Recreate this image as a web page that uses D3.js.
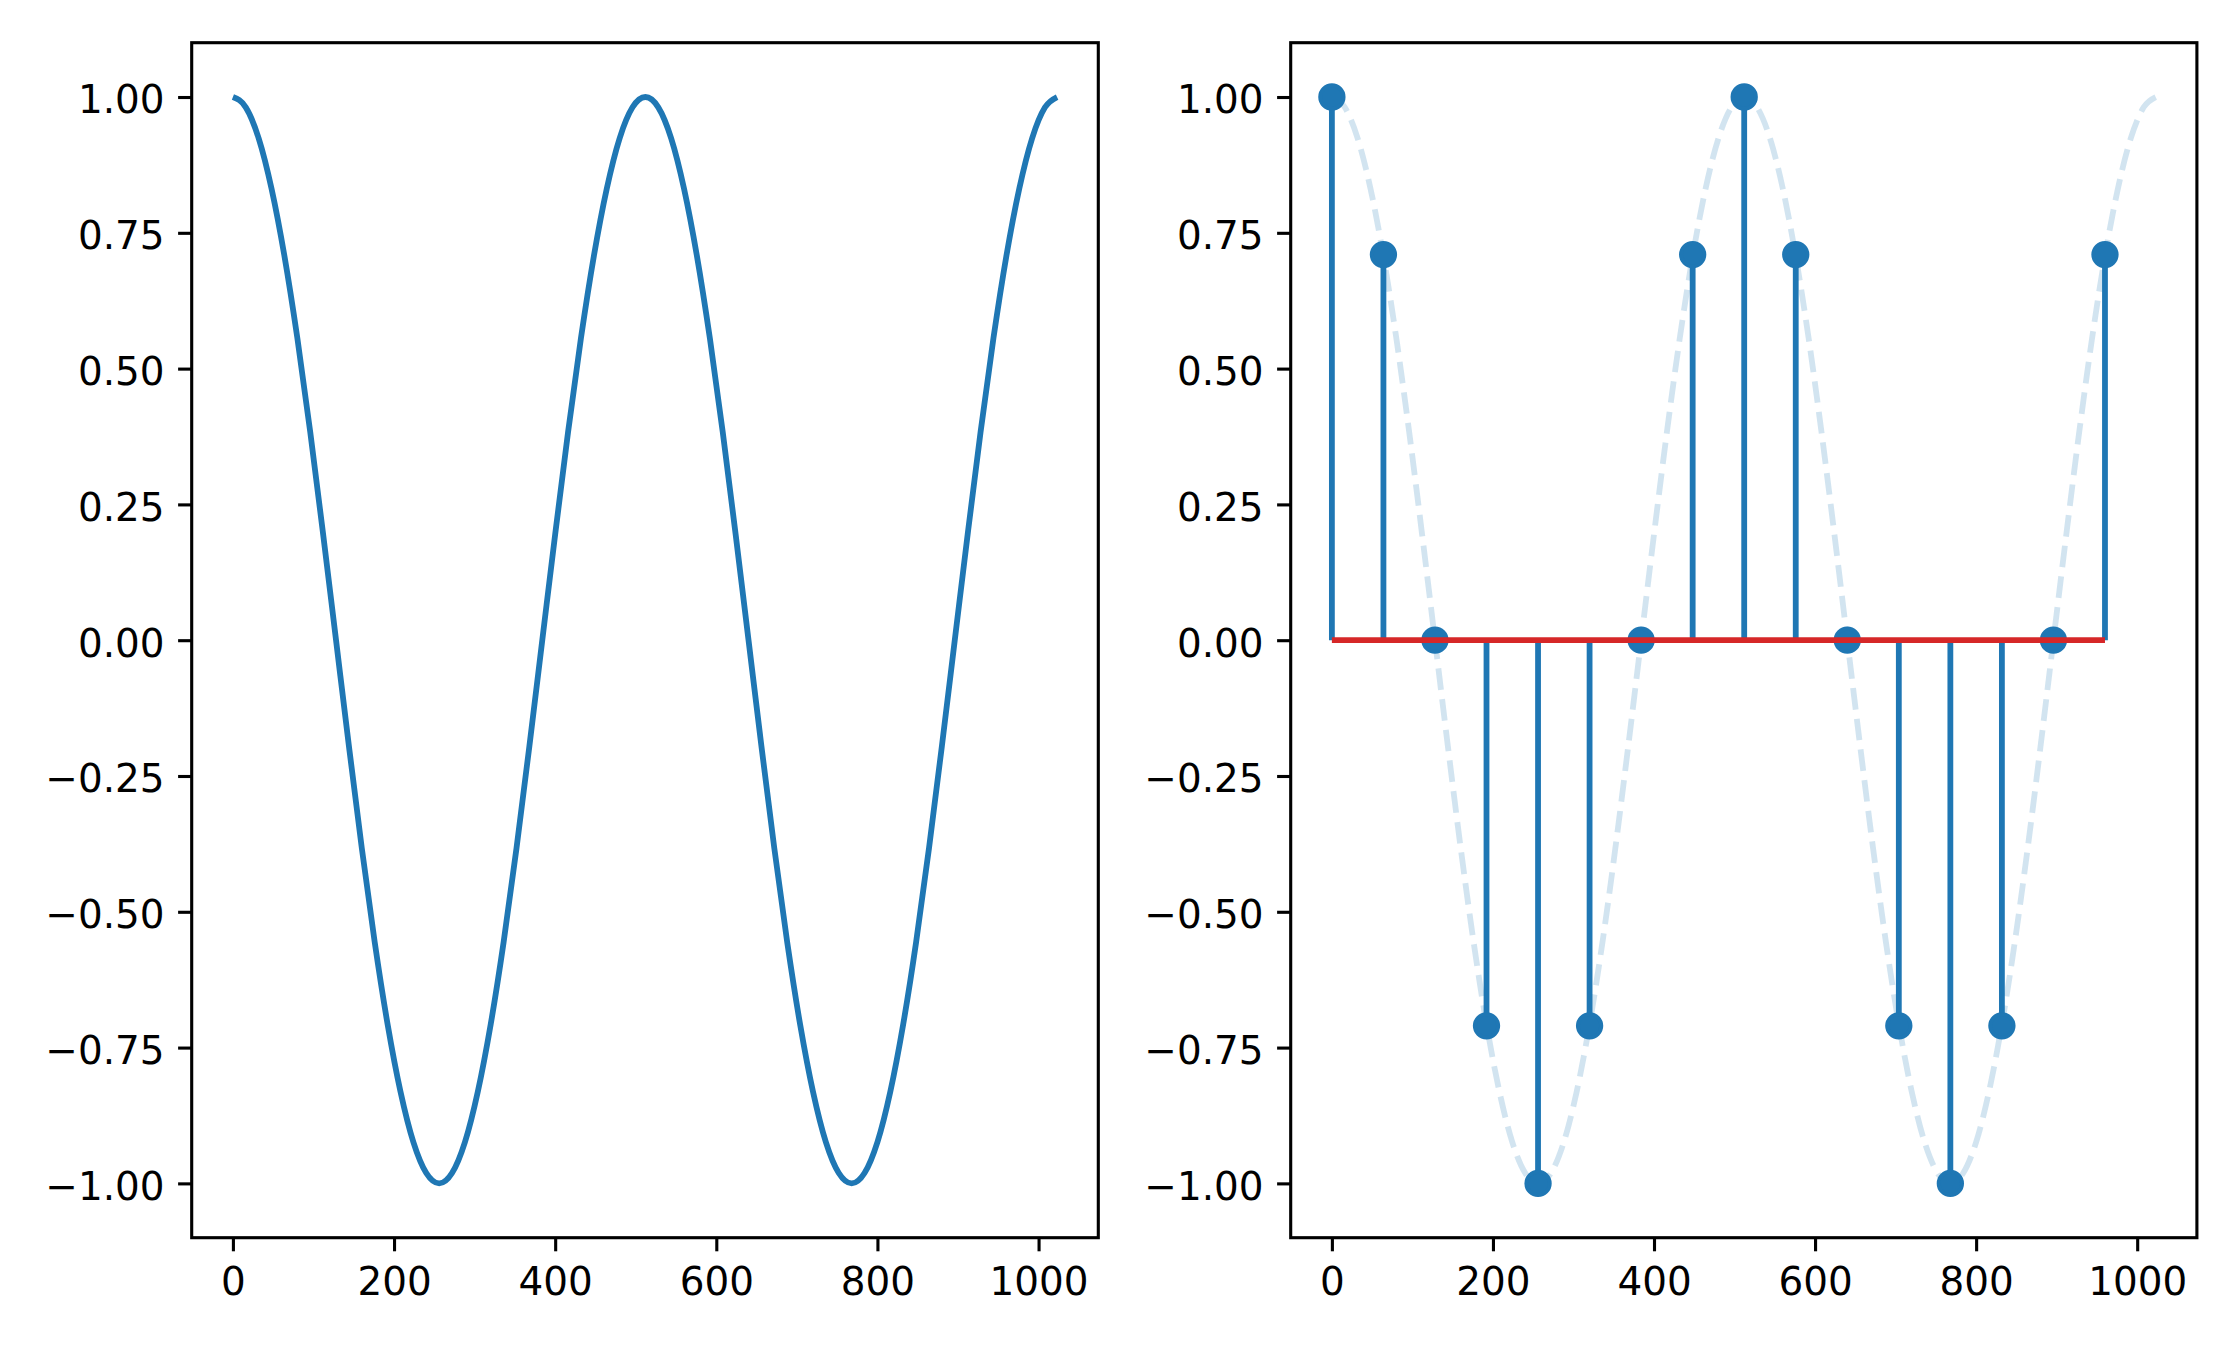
<!DOCTYPE html>
<html>
<head>
<meta charset="utf-8">
<script src="https://cdn.jsdelivr.net/npm/d3@7"></script>
<style>
  html, body { margin: 0; padding: 0; background: #fff; }
  svg text { font-family: "DejaVu Sans", sans-serif; }
</style>
</head>
<body>
<svg id="chart" width="2240" height="1350"></svg>
<script>
// ---- data ----
const curveX = [0, 16, 32, 48, 64, 80, 96, 112, 128, 144, 160, 176, 192, 208, 224, 240,
                256, 272, 288, 304, 320, 336, 352, 368, 384, 400, 416, 432, 448, 464, 480, 496,
                512, 528, 544, 560, 576, 592, 608, 624, 640, 656, 672, 688, 704, 720, 736, 752,
                768, 784, 800, 816, 832, 848, 864, 880, 896, 912, 928, 944, 960, 976, 992, 1008, 1023];
const curveY = [1.000, 0.981, 0.924, 0.831, 0.707, 0.556, 0.383, 0.195, 0.000, -0.195, -0.383, -0.556, -0.707, -0.831, -0.924, -0.981,
                -1.000, -0.981, -0.924, -0.831, -0.707, -0.556, -0.383, -0.195, 0.000, 0.195, 0.383, 0.556, 0.707, 0.831, 0.924, 0.981,
                1.000, 0.981, 0.924, 0.831, 0.707, 0.556, 0.383, 0.195, 0.000, -0.195, -0.383, -0.556, -0.707, -0.831, -0.924, -0.981,
                -1.000, -0.981, -0.924, -0.831, -0.707, -0.556, -0.383, -0.195, 0.000, 0.195, 0.383, 0.556, 0.707, 0.831, 0.924, 0.981, 1.000];
const stemX = [0, 64, 128, 192, 256, 320, 384, 448, 512, 576, 640, 704, 768, 832, 896, 960];
const stemY = [1.00, 0.71, 0.00, -0.71, -1.00, -0.71, 0.00, 0.71, 1.00, 0.71, 0.00, -0.71, -1.00, -0.71, 0.00, 0.71];
const xTicks = [0, 200, 400, 600, 800, 1000];
const yTicks = [-1.00, -0.75, -0.50, -0.25, 0.00, 0.25, 0.50, 0.75, 1.00];
const xDomain = [-51.15, 1074.15];
const yDomain = [-1.1, 1.1];

// ---- layout ----
const C0 = "#1f77b4", C3 = "#d62728";
const fontSize = 38.9;
const tickLen = 13.6, tickPad = 13.6, spineW = 3.1;
const plotTop = 42.7, plotBottom = 1237.7;
const panels = [{ left: 191.7, right: 1098.3 }, { left: 1290.7, right: 2196.9 }];

const svg = d3.select("#chart");
const fmtY = d => d3.format(".2f")(d).replace("-", "\u2212");

function makeAxes(p) {
  const x = d3.scaleLinear().domain(xDomain).range([p.left, p.right]);
  const y = d3.scaleLinear().domain(yDomain).range([plotBottom, plotTop]);
  const g = svg.append("g");
  const plot = g.append("g");
  const gx = g.append("g").attr("transform", `translate(0,${plotBottom})`)
    .call(d3.axisBottom(x).tickValues(xTicks).tickSize(tickLen).tickPadding(tickPad).tickFormat(d3.format("d")));
  const gy = g.append("g").attr("transform", `translate(${p.left},0)`)
    .call(d3.axisLeft(y).tickValues(yTicks).tickSize(tickLen).tickPadding(tickPad).tickFormat(fmtY));
  [gx, gy].forEach(a => {
    a.select(".domain").remove();
    a.selectAll(".tick line").attr("stroke", "#000").attr("stroke-width", spineW);
    a.selectAll(".tick text").attr("fill", "#000").style("font-size", fontSize + "px")
      .style("font-family", "'DejaVu Sans', sans-serif");
  });
  gx.selectAll(".tick text").attr("dy", "0.77em");
  gy.selectAll(".tick text").attr("dy", "0.41em");
  g.append("rect").attr("x", p.left).attr("y", plotTop)
    .attr("width", p.right - p.left).attr("height", plotBottom - plotTop)
    .attr("fill", "none").attr("stroke", "#000").attr("stroke-width", spineW)
    .attr("stroke-linejoin", "miter");
  return { x, y, plot };
}

const curvePts = curveX.map((v, i) => [v, curveY[i]]);
const stemPts = stemX.map((v, i) => [v, stemY[i]]);

// left panel
{
  const { x, y, plot } = makeAxes(panels[0]);
  plot.append("path").datum(curvePts)
    .attr("d", d3.line().x(d => x(d[0])).y(d => y(d[1])).curve(d3.curveMonotoneX))
    .attr("fill", "none").attr("stroke", C0).attr("stroke-width", 5.8).attr("stroke-linecap", "butt")
    .attr("stroke-linejoin", "round");
}

// right panel
{
  const { x, y, plot } = makeAxes(panels[1]);
  plot.append("path").datum(curvePts)
    .attr("d", d3.line().x(d => x(d[0])).y(d => y(d[1])).curve(d3.curveMonotoneX))
    .attr("fill", "none").attr("stroke", C0).attr("stroke-opacity", 0.2)
    .attr("stroke-width", 5.8).attr("stroke-dasharray", "21.6,9.3");
  plot.selectAll("line.stem").data(stemPts).join("line").attr("class", "stem")
    .attr("x1", d => x(d[0])).attr("x2", d => x(d[0]))
    .attr("y1", y(0)).attr("y2", d => y(d[1]))
    .attr("stroke", C0).attr("stroke-width", 5.8);
  plot.selectAll("circle.mk").data(stemPts).join("circle").attr("class", "mk")
    .attr("cx", d => x(d[0])).attr("cy", d => y(d[1])).attr("r", 11.7)
    .attr("fill", C0).attr("stroke", C0).attr("stroke-width", 3.9);
  plot.append("line")
    .attr("x1", x(stemX[0])).attr("x2", x(stemX[stemX.length - 1]))
    .attr("y1", y(0)).attr("y2", y(0))
    .attr("stroke", C3).attr("stroke-width", 5.8);
}
</script>
</body>
</html>
